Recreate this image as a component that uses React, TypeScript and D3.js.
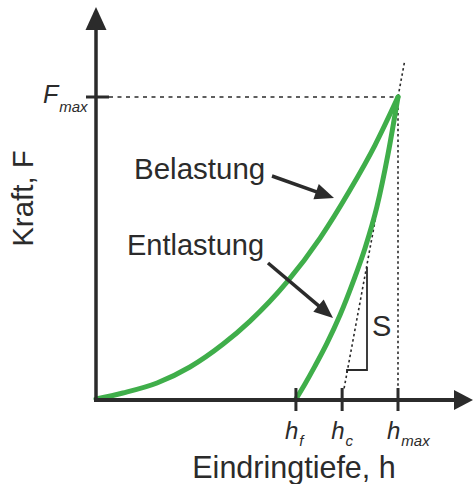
import React from "react";
import * as d3 from "d3";

// Indentation depth h (normalised so that h_max = 100) and force F (F_max = 100)
const loadingH = [0, 8.9, 20.2, 31.1, 42.1, 51.0, 63.2, 74.2, 84.1, 92.4, 100];
const loadingF = [0, 2.0, 5.3, 10.6, 18.2, 25.8, 38.7, 53.3, 69.2, 84.1, 100];

const unloadingH = [66.2, 69.2, 72.5, 76.5, 80.8, 85.1, 89.1, 93.0, 96.7, 100];
const unloadingF = [0, 5.0, 10.9, 18.5, 27.8, 38.7, 50.0, 63.6, 81.1, 100];

// Characteristic depths and the maximum force
const depthTicks = [
  { key: "hf", value: 66.2, base: "h", sub: "f" },
  { key: "hc", value: 81.5, base: "h", sub: "c" },
  { key: "hmax", value: 100, base: "h", sub: "max" },
];
const forceMax = 100;
const depthMax = 100;
const contactDepth = 81.5;

const W = 473;
const H = 484;
const INK = "#2b2b2b";
const GREEN = "#3fae4a";
const FONT = "'Liberation Sans', Arial, Helvetica, sans-serif";

export default function App() {
  const x = d3.scaleLinear().domain([0, 100]).range([96, 398]);
  const y = d3.scaleLinear().domain([0, 100]).range([399, 97]);

  const x0 = x(0);
  const y0 = y(0);
  const xEnd = 473;
  const yTop = 7;

  const line = d3
    .line<[number, number]>()
    .x((d) => x(d[0]))
    .y((d) => y(d[1]))
    .curve(d3.curveMonotoneX);

  const loading = loadingH.map((h, i) => [h, loadingF[i]] as [number, number]);
  const unloading = unloadingH.map((h, i) => [h, unloadingF[i]] as [number, number]);

  // Tangent at the start of unloading: through (h_c, 0) and (h_max, F_max)
  const slope = forceMax / (depthMax - contactDepth);
  const tangentF0 = 3.5;
  const tangentF1 = 112;
  const tangentH = (f: number) => contactDepth + f / slope;

  const arrowHead = (
    tx: number,
    ty: number,
    fx: number,
    fy: number,
    len = 19,
    half = 8
  ) => {
    const dx = tx - fx;
    const dy = ty - fy;
    const n = Math.hypot(dx, dy);
    const ux = dx / n;
    const uy = dy / n;
    const bx = tx - ux * len;
    const by = ty - uy * len;
    return `M${tx},${ty}L${bx - uy * half},${by + ux * half}L${bx + uy * half},${by - ux * half}Z`;
  };

  const arrows = [
    { from: [272, 176], to: [334, 198] },
    { from: [268, 263], to: [333, 318] },
  ];

  return (
    <svg
      width={W}
      height={H}
      style={{ position: "absolute", left: 0, top: 0, background: "#fff" }}
      fontFamily={FONT}
    >
      {/* reference lines */}
      <line
        x1={x0 + 13}
        x2={x(depthMax)}
        y1={y(forceMax)}
        y2={y(forceMax)}
        stroke={INK}
        strokeWidth={1.5}
        strokeDasharray="4,4.5"
      />
      <line
        x1={x(depthMax)}
        x2={x(depthMax)}
        y1={y(forceMax)}
        y2={y0 - 11}
        stroke={INK}
        strokeWidth={1.6}
        strokeDasharray="2.5,2.8"
      />
      <line
        x1={x(tangentH(tangentF0))}
        y1={y(tangentF0)}
        x2={x(tangentH(tangentF1))}
        y2={y(tangentF1)}
        stroke={INK}
        strokeWidth={1.6}
        strokeDasharray="2.5,2.8"
      />

      {/* stiffness triangle */}
      <path
        d={`M367,267L367,370L347,370L347,373`}
        fill="none"
        stroke={INK}
        strokeWidth={1.8}
      />
      <text x={372} y={336} fontSize={29} fill={INK}>
        S
      </text>

      {/* curves */}
      <path
        d={line(loading) ?? ""}
        fill="none"
        stroke={GREEN}
        strokeWidth={5}
        strokeLinecap="round"
        strokeLinejoin="round"
      />
      <path
        d={line(unloading) ?? ""}
        fill="none"
        stroke={GREEN}
        strokeWidth={5}
        strokeLinecap="round"
        strokeLinejoin="round"
      />

      {/* axes */}
      <line x1={x0} x2={x0} y1={y0 + 2} y2={yTop + 18} stroke={INK} strokeWidth={3.5} />
      <path d={`M${x0},${yTop}L${x0 + 10.5},${yTop + 23}L${x0 - 10.5},${yTop + 23}Z`} fill={INK} />
      <line x1={x0 - 2} x2={xEnd - 14} y1={y0 + 1} y2={y0 + 1} stroke={INK} strokeWidth={3.8} />
      <path d={`M${xEnd},${y0 + 1}L${xEnd - 19},${y0 + 11}L${xEnd - 19},${y0 - 9}Z`} fill={INK} />

      {/* F_max tick */}
      <line x1={x0 - 10} x2={x0 + 13} y1={y(forceMax)} y2={y(forceMax)} stroke={INK} strokeWidth={3} />
      <text x={43} y={103} fill={INK} fontStyle="italic">
        <tspan fontSize={25}>F</tspan>
        <tspan fontSize={15} dx={1} dy={8.5}>
          max
        </tspan>
      </text>

      {/* depth ticks */}
      {depthTicks.map((t) => (
        <g key={t.key}>
          <line
            x1={x(t.value)}
            x2={x(t.value)}
            y1={y0 - 11}
            y2={y0 + 12}
            stroke={INK}
            strokeWidth={3}
          />
          <text x={x(t.value) - 11} y={439} fill={INK} fontStyle="italic">
            <tspan fontSize={24}>{t.base}</tspan>
            <tspan fontSize={15} dx={1} dy={6.5}>
              {t.sub}
            </tspan>
          </text>
        </g>
      ))}

      {/* annotations */}
      <text x={134} y={179} fontSize={29.5} fill={INK}>
        Belastung
      </text>
      <text x={127} y={255} fontSize={29} fill={INK}>
        Entlastung
      </text>
      {arrows.map((a, i) => {
        const [fx, fy] = a.from;
        const [tx, ty] = a.to;
        const n = Math.hypot(tx - fx, ty - fy);
        const ex = tx - ((tx - fx) / n) * 14;
        const ey = ty - ((ty - fy) / n) * 14;
        return (
          <g key={i}>
            <line x1={fx} y1={fy} x2={ex} y2={ey} stroke={INK} strokeWidth={3.5} />
            <path d={arrowHead(tx, ty, fx, fy)} fill={INK} />
          </g>
        );
      })}

      {/* axis titles */}
      <text x={294} y={478} fontSize={30.5} textAnchor="middle" fill={INK}>
        Eindringtiefe, h
      </text>
      <text
        transform="translate(33,198.5) rotate(-90)"
        fontSize={29.5}
        textAnchor="middle"
        fill={INK}
      >
        Kraft, F
      </text>
    </svg>
  );
}
